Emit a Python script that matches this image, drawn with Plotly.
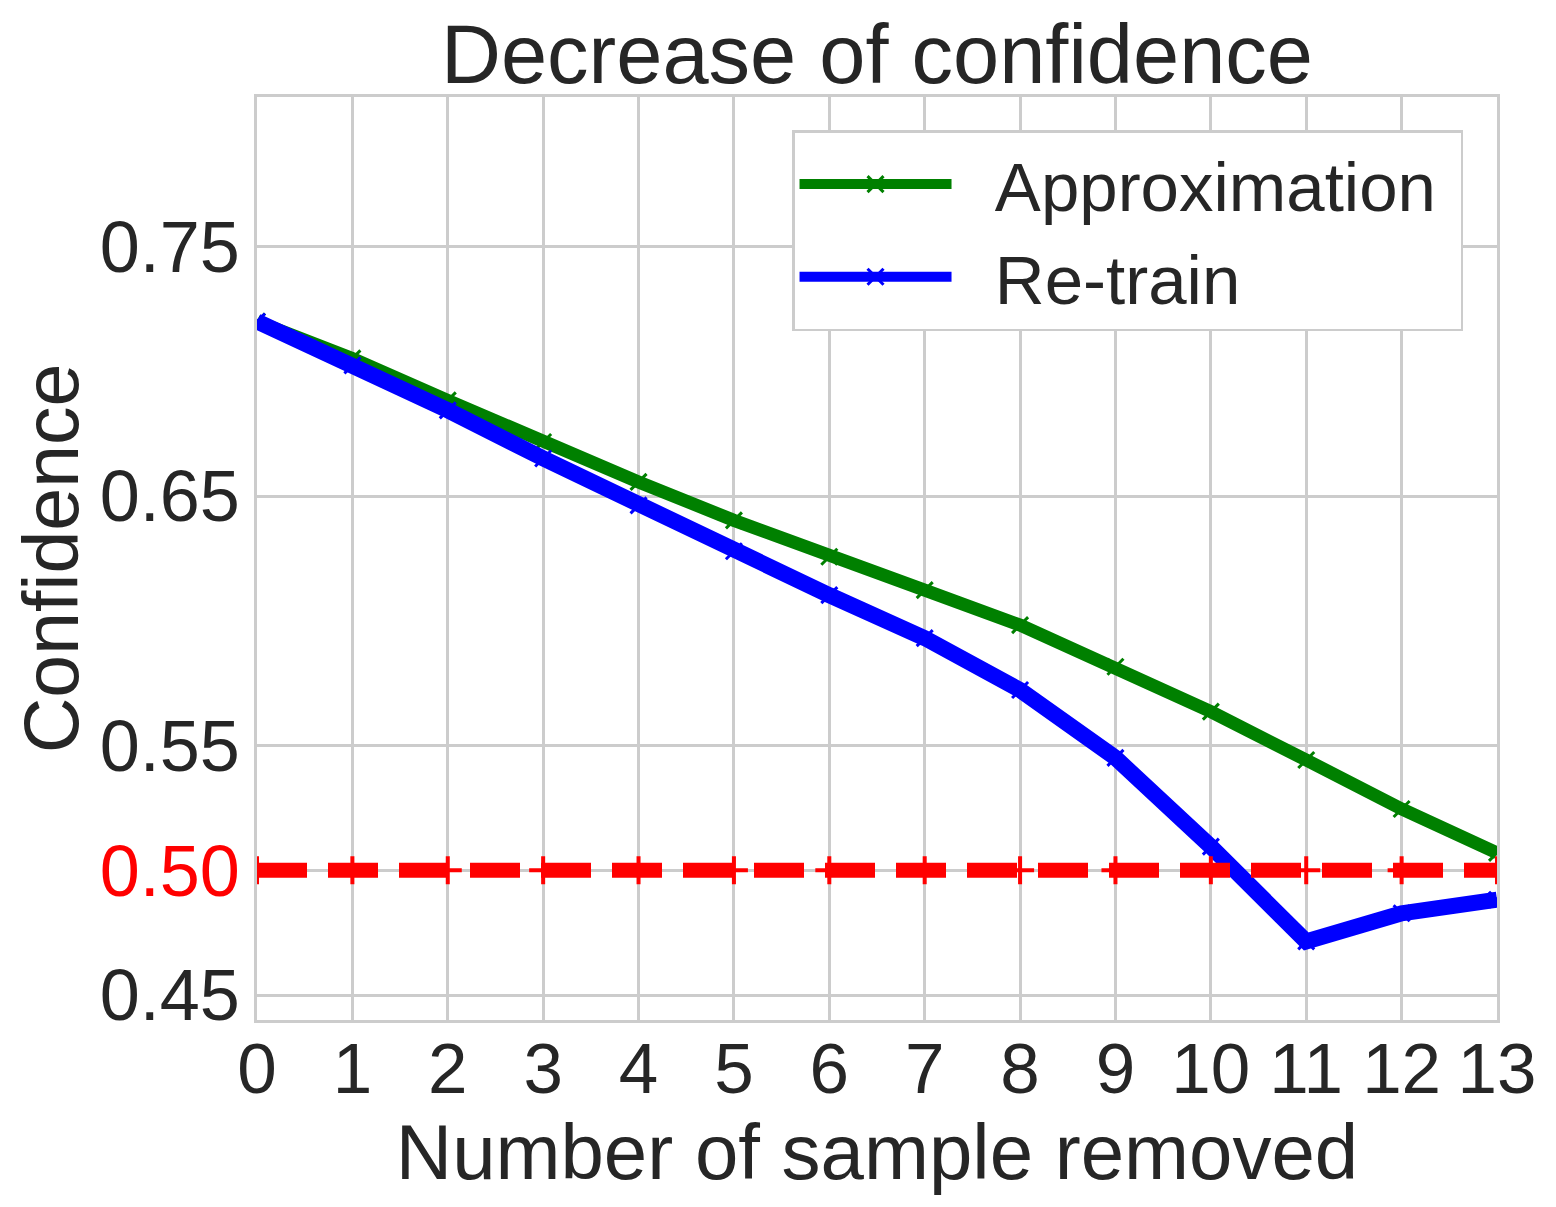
### Decrease of confidence plot (plotly) ###
import plotly.graph_objects as go

## DATA
n_removed = list(range(14))  # number of samples removed
approx_conf = [0.7200, 0.7052, 0.6884, 0.6717, 0.6557, 0.6403, 0.6257,
               0.6123, 0.5983, 0.5816, 0.5636, 0.5442, 0.5246, 0.5070]
retrain_conf = [0.7200, 0.7024, 0.6844, 0.6651, 0.6463, 0.6279, 0.6103,
                0.5931, 0.5723, 0.5451, 0.5095, 0.4715, 0.4828, 0.4882]
threshold = [0.5] * len(n_removed)

y_ticks = [0.45, 0.50, 0.55, 0.65, 0.75]
y_ticklabels = ['0.45', '<span style="color:#ff0000">0.50</span>', '0.55', '0.65', '0.75']

FONT = 'Arial, Liberation Sans, sans-serif'
TXT = '#262626'
GRID = '#cccccc'
NB = '\u00a0'  # non-breaking space, used to pad legend labels

## PLOTTING
fig = go.Figure()

fig.add_trace(go.Scatter(
    x=n_removed, y=approx_conf, mode='lines+markers', name=NB * 2 + 'Approximation' + NB,
    line=dict(color='green', width=13),
    marker=dict(symbol='x-thin', size=16, color='green', line=dict(color='green', width=3))))

fig.add_trace(go.Scatter(
    x=n_removed, y=retrain_conf, mode='lines+markers', name=NB * 2 + 'Re-train',
    line=dict(color='blue', width=16),
    marker=dict(symbol='x-thin', size=16, color='blue', line=dict(color='blue', width=3))))

# threshold line at 0.5
fig.add_trace(go.Scatter(
    x=n_removed, y=threshold, mode='lines+markers', showlegend=False,
    line=dict(color='#ff0000', width=15, dash='50px,21px'),
    marker=dict(symbol='cross-thin', size=20, color='#ff0000', line=dict(color='#ff0000', width=4))))

fig.update_layout(
    width=1556, height=1207,
    margin=dict(l=249, r=67, t=89, b=195),
    paper_bgcolor='white', plot_bgcolor='white',
    font=dict(family=FONT, color=TXT),
    title=dict(text='Decrease of confidence', font=dict(size=83, color=TXT),
               x=0.5, xref='paper', xanchor='center',
               y=1 - 46 / 1207, yref='container', yanchor='middle'),
    legend=dict(x=0.9726, y=0.964, xanchor='right', yanchor='top',
                bgcolor='white', bordercolor=GRID, borderwidth=2.5,
                font=dict(size=69, color=TXT), itemwidth=152,
                tracegroupgap=0),
)

fig.update_xaxes(
    range=[0, 13], tickmode='array', tickvals=n_removed,
    tickfont=dict(size=71, color=TXT), ticklabelstandoff=-15,
    showgrid=True, gridcolor=GRID, gridwidth=2.5,
    showline=True, linecolor=GRID, linewidth=2.5, mirror=True,
    zeroline=False, ticks='', ticklen=0,
    title=dict(text='Number of sample removed', font=dict(size=78, color=TXT), standoff=0))

fig.update_yaxes(
    range=[0.44, 0.81], tickmode='array', tickvals=y_ticks, ticktext=y_ticklabels,
    tickfont=dict(size=72, color=TXT),
    showgrid=True, gridcolor=GRID, gridwidth=2.5,
    showline=True, linecolor=GRID, linewidth=2.5, mirror=True,
    zeroline=False, ticks='', ticklen=0,
    title=dict(text='Confidence', font=dict(size=77, color=TXT), standoff=16))

fig.write_html("out.html")
